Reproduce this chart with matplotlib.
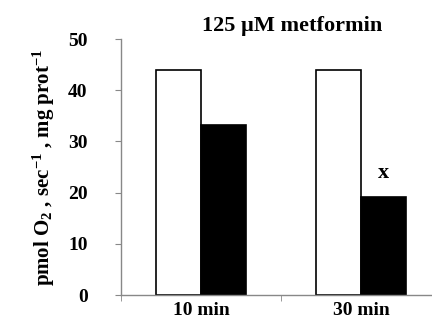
import matplotlib
matplotlib.use("Agg")
import matplotlib.pyplot as plt
import numpy as np

categories = ["10 min", "30 min"]
control = [44, 44]
metformin = [33.2, 19.1]
yticks = [0, 10, 20, 30, 40, 50]
title = "125 µM metformin"
ylabel = r"pmol O$_2$ , sec$^{-1}$ , mg prot$^{-1}$"
sig = ["", "x"]

plt.rcParams['font.family'] = ['Liberation Serif', 'DejaVu Serif']
plt.rcParams['mathtext.fontset'] = 'custom'
plt.rcParams['mathtext.rm'] = 'Liberation Serif:bold'
plt.rcParams['mathtext.it'] = 'Liberation Serif:bold'
plt.rcParams['mathtext.bf'] = 'Liberation Serif:bold'

fig = plt.figure(figsize=(4.32, 3.24), dpi=100)
ax = fig.add_axes([121/432, 1-295/324, 320/432, 256/324])

x = np.arange(len(categories))
w = 0.28
ax.bar(x - w/2, control, width=w, color="white", edgecolor="black", linewidth=1.2)
ax.bar(x + w/2, metformin, width=w, color="black", edgecolor="black", linewidth=1.2)
for xi, v, s in zip(x, metformin, sig):
    if s:
        ax.text(xi + w/2, v + 2.8, s, ha="center", va="bottom", fontsize=16, fontweight="bold")

ax.set_xlim(-0.5, 1.5)
ax.set_ylim(0, 50)
ax.set_yticks(yticks)
ax.set_yticklabels([str(t) for t in yticks], fontsize=14, fontweight="bold")
ax.set_xticks(x)
ax.set_xticklabels(categories, fontsize=14, fontweight="bold")
ax.set_xticks([-0.5, 0.5, 1.5], minor=True)
ax.tick_params(axis="x", which="major", length=0, pad=5)
ax.tick_params(axis="x", which="minor", length=4, color="#888888", direction="out")
ax.tick_params(axis="y", length=4, color="#888888", pad=20)
for s in ["top", "right"]:
    ax.spines[s].set_visible(False)
for s in ["left", "bottom"]:
    ax.spines[s].set_color("#888888")
    ax.spines[s].set_linewidth(1.0)

ax.set_ylabel(ylabel, fontsize=15, fontweight="bold", labelpad=8)
fig.text(292/432, 1-26/324, title, ha="center", va="center", fontsize=16, fontweight="bold")

fig.savefig("out.png", dpi=100)
